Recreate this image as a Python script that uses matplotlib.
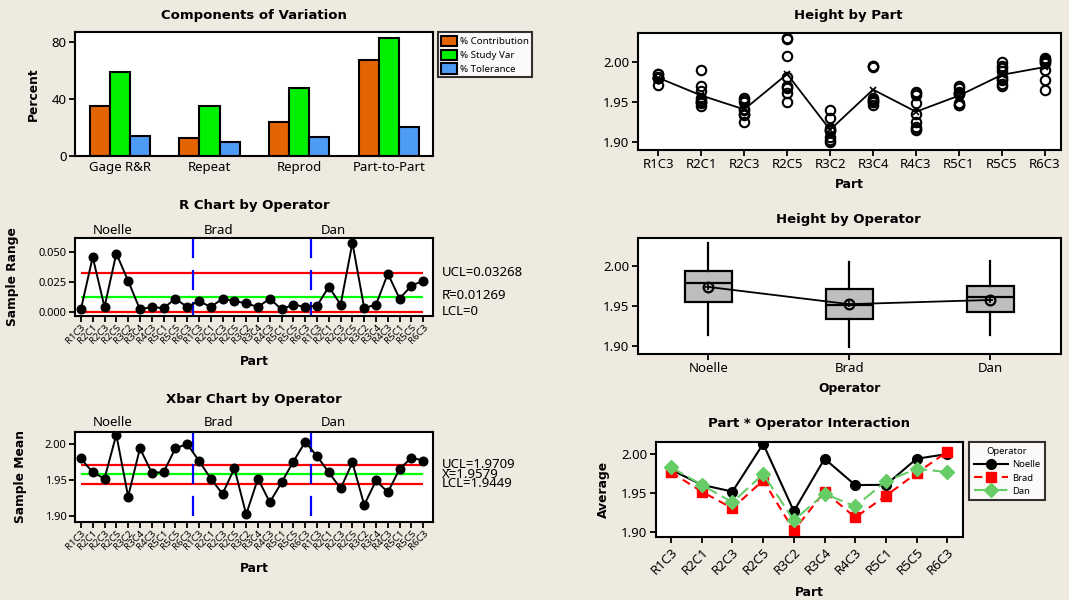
import numpy as np
import matplotlib
matplotlib.use("Agg")
import matplotlib.pyplot as plt
from matplotlib.transforms import blended_transform_factory

plt.rcParams['font.family'] = ['Noto Sans', 'DejaVu Sans']
plt.rcParams['lines.scale_dashes'] = False
plt.rcParams['axes.linewidth'] = 1.5

BG = '#EEEAE0'
W, H = 1069, 600
BOLD = dict(family=['DejaVu Sans'], fontweight='bold')

# ---------------------------------------------------------------- data
parts = ["R1C3", "R2C1", "R2C3", "R2C5", "R3C2", "R3C4", "R4C3", "R5C1", "R5C5", "R6C3"]
operators = ["Noelle", "Brad", "Dan"]

components = ["Gage R&R", "Repeat", "Reprod", "Part-to-Part"]
pct_contribution = [35.0, 12.5, 23.5, 67.5]
pct_study_var = [59.0, 35.0, 48.0, 83.0]
pct_tolerance = [14.0, 10.0, 13.0, 20.0]

# three trials per part, one list per operator (same part order as `parts`)
noelle_trials = [
    (1.979, 1.980, 1.981), (1.944, 1.948, 1.990), (1.950, 1.952, 1.954),
    (1.981, 2.028, 2.030), (1.913, 1.929, 1.939), (1.993, 1.994, 1.995),
    (1.958, 1.961, 1.962), (1.959, 1.961, 1.962), (1.988, 1.995, 1.999),
    (1.998, 2.000, 2.002)]
brad_trials = [
    (1.971, 1.979, 1.980), (1.950, 1.952, 1.954), (1.924, 1.933, 1.935),
    (1.961, 1.968, 1.970), (1.899, 1.902, 1.906), (1.950, 1.952, 1.954),
    (1.914, 1.918, 1.925), (1.946, 1.946, 1.948), (1.972, 1.977, 1.978),
    (2.001, 2.003, 2.005)]
dan_trials = [
    (1.980, 1.984, 1.985), (1.949, 1.963, 1.970), (1.935, 1.939, 1.941),
    (1.949, 1.967, 2.007), (1.914, 1.915, 1.917), (1.946, 1.950, 1.952),
    (1.916, 1.935, 1.948), (1.959, 1.967, 1.970), (1.970, 1.981, 1.992),
    (1.964, 1.977, 1.990)]

r_ucl, r_center, r_lcl = 0.03268, 0.01269, 0.0
x_ucl, x_center, x_lcl = 1.9709, 1.9579, 1.9449

# ---------------------------------------------------------------- derived
trials = np.array([noelle_trials, brad_trials, dan_trials])      # op, part, trial
sub_means = trials.mean(axis=2)                                   # op, part
sub_ranges = np.ptp(trials, axis=2)
xbar_seq = sub_means.ravel()
range_seq = sub_ranges.ravel()

# ---------------------------------------------------------------- figure
fig = plt.figure(figsize=(W / 100, H / 100), dpi=100)
fig.patch.set_facecolor(BG)


def add_axes_px(l, t, r, b):
    return fig.add_axes([l / W, 1 - b / H, (r - l) / W, (b - t) / H])


def frame(ax, size):
    ax.set_facecolor('white')
    for s in ax.spines.values():
        s.set_linewidth(1.5)
        s.set_color('black')
    ax.tick_params(direction='out', length=4, width=1.3, labelsize=size,
                   color='black', pad=2)


def panel_title(text, cx, cy):
    fig.text(cx / W, 1 - cy / H, text, ha='center', va='center',
             fontsize=9.5, **BOLD)


def axis_labels(ax, xlabel=None, xy=None, ylabel=None, yx=None, size=8.8):
    if xlabel:
        ax.set_xlabel(xlabel, fontsize=size, **BOLD)
        ax.xaxis.label.set_verticalalignment('center')
        ax.xaxis.set_label_coords(0.5, xy)
    if ylabel:
        ax.set_ylabel(ylabel, fontsize=size, **BOLD)
        ax.yaxis.label.set_verticalalignment('center')
        ax.yaxis.set_label_coords(yx, 0.5)


# ---------------- Components of Variation
ax1 = add_axes_px(75, 32.3, 432.7, 155.7)
frame(ax1, 9.5)
xc = np.arange(len(components))
bw = 0.225
series = [(pct_contribution, '#E36400', '% Contribution'),
          (pct_study_var, '#00F000', '% Study Var'),
          (pct_tolerance, '#4D9BF5', '% Tolerance')]
for k, (vals, col, lab) in enumerate(series):
    ax1.bar(xc + (k - 1) * bw, vals, width=bw, color=col, edgecolor='black',
            linewidth=1.5, label=lab)
ax1.set_xlim(-0.5, 3.49)
ax1.set_ylim(0, 87)
ax1.set_yticks([0, 40, 80])
ax1.set_xticks(xc)
ax1.set_xticklabels(components)
ax1.tick_params(axis='x', length=0, pad=4)
axis_labels(ax1, ylabel='Percent', yx=(33 - 75) / 357.7)
panel_title('Components of Variation', 254, 15)
leg = ax1.legend(loc='upper left', bbox_to_anchor=(437.7 / W, 1 - 32.3 / H),
                 bbox_transform=fig.transFigure, fontsize=7, frameon=True,
                 fancybox=False, edgecolor='black', handlelength=1.6,
                 handleheight=1.25, handletextpad=0.3, borderpad=0.35,
                 labelspacing=0.35, borderaxespad=0)
leg.get_frame().set_linewidth(1.5)

# ---------------- R chart and Xbar chart by operator
idx = np.arange(1, len(range_seq) + 1)
seq_labels = parts * len(operators)


def operator_chart(ax, values, ucl, center, lcl, ylim, yticks, yfmt,
                   limit_texts, oplabel_y):
    frame(ax, 8)
    ax.hlines([ucl, lcl], 1, len(values), colors='#FF0000', lw=1.6, zorder=2)
    ax.hlines(center, 1, len(values), colors='#00FF00', lw=1.6, zorder=2)
    for b in (10.5, 20.5):
        ax.plot([b, b], [ylim[1], ylim[0]], color='#0000FF', lw=1.6,
                linestyle=(0, (14.5, 8.5)), zorder=2)
    ax.plot(idx, values, color='black', lw=1.4, marker='o', ms=6.2, zorder=3)
    ax.set_xlim(0.5, 30.8)
    ax.set_ylim(*ylim)
    ax.set_yticks(yticks)
    ax.set_yticklabels([yfmt.format(v) for v in yticks])
    ax.set_xticks(idx)
    ax.set_xticklabels(seq_labels, rotation=45, ha='right',
                       rotation_mode='anchor', fontsize=7)
    ax.tick_params(axis='x', pad=1)
    trans = blended_transform_factory(ax.transAxes, ax.transData)
    for val, txt in limit_texts:
        ax.text(1.025, val, txt, transform=trans, ha='left', va='center',
                fontsize=9.5)
    otrans = blended_transform_factory(ax.transData, ax.transAxes)
    for pos, name in zip((3.7, 12.7, 22.4), operators):
        ax.text(pos, oplabel_y, name, transform=otrans, ha='center',
                va='center', fontsize=9.5)


ax2 = add_axes_px(75, 237.7, 432.7, 316)
operator_chart(ax2, range_seq, r_ucl, r_center, r_lcl, (-0.0036, 0.0623),
               [0.0, 0.025, 0.05], '{:.3f}',
               [(r_ucl, f'UCL={r_ucl:.5f}'), (r_center + 0.0012, f'R\u0304={r_center:.5f}'),
                (r_lcl, f'LCL={r_lcl:g}')], 1.098)
axis_labels(ax2, xlabel='Part', xy=-(361.7 - 316) / 78.3,
            ylabel='Sample Range', yx=(12.7 - 75) / 357.7)
panel_title('R Chart by Operator', 254, 205)

ax3 = add_axes_px(75, 431.7, 432.7, 521.7)
operator_chart(ax3, xbar_seq, x_ucl, x_center, x_lcl, (1.8921, 2.0171),
               [1.90, 1.95, 2.00], '{:.2f}',
               [(x_ucl, f'UCL={x_ucl:.4f}'), (x_center, f'X\u0304={x_center:.4f}'),
                (x_lcl, f'LCL={x_lcl:.4f}')], 1.104)
axis_labels(ax3, xlabel='Part', xy=-(568 - 521.7) / 90,
            ylabel='Sample Mean', yx=(20 - 75) / 357.7)
panel_title('Xbar Chart by Operator', 254, 400)

# ---------------- Height by Part
ax4 = add_axes_px(637.7, 33.3, 1060.7, 150)
frame(ax4, 9.5)
pidx = np.arange(1, len(parts) + 1)
for i in range(len(parts)):
    vals = trials[:, i, :].ravel()
    ax4.plot(np.full(vals.size, pidx[i]), vals, 'o', mfc='none', mec='black',
             ms=6.8, mew=1.5, zorder=3)
part_means = trials.mean(axis=(0, 2))
ax4.plot(pidx, part_means, color='black', lw=1.3, marker='x', ms=5, mew=1.2,
         zorder=4)
ax4.set_xlim(0.52, 10.37)
ax4.set_ylim(1.8896, 2.0355)
ax4.set_yticks([1.90, 1.95, 2.00])
ax4.set_yticklabels(['1.90', '1.95', '2.00'])
ax4.set_xticks(pidx)
ax4.set_xticklabels(parts)
axis_labels(ax4, xlabel='Part', xy=-(184.3 - 150) / 116.7)
panel_title('Height by Part', 848, 16)

# ---------------- Height by Operator
ax5 = add_axes_px(637.7, 238.3, 1060.7, 354)
frame(ax5, 9.5)
op_data = [trials[k].ravel() for k in range(len(operators))]
oidx = np.arange(1, len(operators) + 1)
ax5.boxplot(op_data, positions=oidx, widths=0.335, patch_artist=True,
            showcaps=False, showfliers=False,
            boxprops=dict(facecolor='#BEBEBE', edgecolor='black', linewidth=1.6),
            whiskerprops=dict(color='black', linewidth=1.6),
            medianprops=dict(color='black', linewidth=1.6))
op_means = [d.mean() for d in op_data]
ax5.plot(oidx, op_means, color='black', lw=1.3, zorder=4)
ax5.plot(oidx, op_means, 'o', mfc='none', mec='black', ms=7, mew=1.6, zorder=5)
ax5.plot(oidx, op_means, '+', color='black', ms=5, mew=1.2, zorder=5)
ax5.set_xlim(0.5, 3.5)
ax5.set_ylim(1.8896, 2.0355)
ax5.set_yticks([1.90, 1.95, 2.00])
ax5.set_yticklabels(['1.90', '1.95', '2.00'])
ax5.set_xticks(oidx)
ax5.set_xticklabels(operators)
axis_labels(ax5, xlabel='Operator', xy=-(388.3 - 354) / 115.7)
panel_title('Height by Operator', 848, 220)

# ---------------- Part * Operator Interaction
ax6 = add_axes_px(655.7, 442.3, 962.7, 537.3)
frame(ax6, 9.5)
styles = [
    dict(color='black', linestyle='-', marker='o', ms=7),
    dict(color='#FF0000', linestyle=(0, (6, 4)), marker='s', ms=7.5),
    dict(color='#66CC66', linestyle=(0, (10, 4)), marker='D', ms=7.5),
]
for k, name in enumerate(operators):
    st = styles[k]
    ax6.plot(pidx, sub_means[k], color=st['color'], linestyle=st['linestyle'],
             lw=1.5, marker=st['marker'], ms=st['ms'], mfc=st['color'],
             mec=st['color'], label=name, zorder=3 + k)
ax6.set_xlim(0.5, 10.5)
ax6.set_ylim(1.8936, 2.015)
ax6.set_yticks([1.90, 1.95, 2.00])
ax6.set_yticklabels(['1.90', '1.95', '2.00'])
ax6.set_xticks(pidx)
ax6.set_xticklabels(parts, rotation=45, ha='right', rotation_mode='anchor')
axis_labels(ax6, xlabel='Part', xy=-(592.7 - 537.3) / 95,
            ylabel='Average', yx=(603.3 - 655.7) / 307)
panel_title('Part * Operator Interaction', 809, 423)
leg2 = ax6.legend(title='Operator', loc='upper left',
                  bbox_to_anchor=(969.3 / W, 1 - 442.3 / H),
                  bbox_transform=fig.transFigure, fontsize=6.8,
                  title_fontsize=6.8, frameon=True, fancybox=False,
                  edgecolor='black', handlelength=3.6, handletextpad=0.4,
                  borderpad=0.5, labelspacing=0.45, borderaxespad=0,
                  markerscale=1.0)
leg2.get_frame().set_linewidth(1.5)

fig.savefig('out.png', dpi=100, facecolor=BG)
